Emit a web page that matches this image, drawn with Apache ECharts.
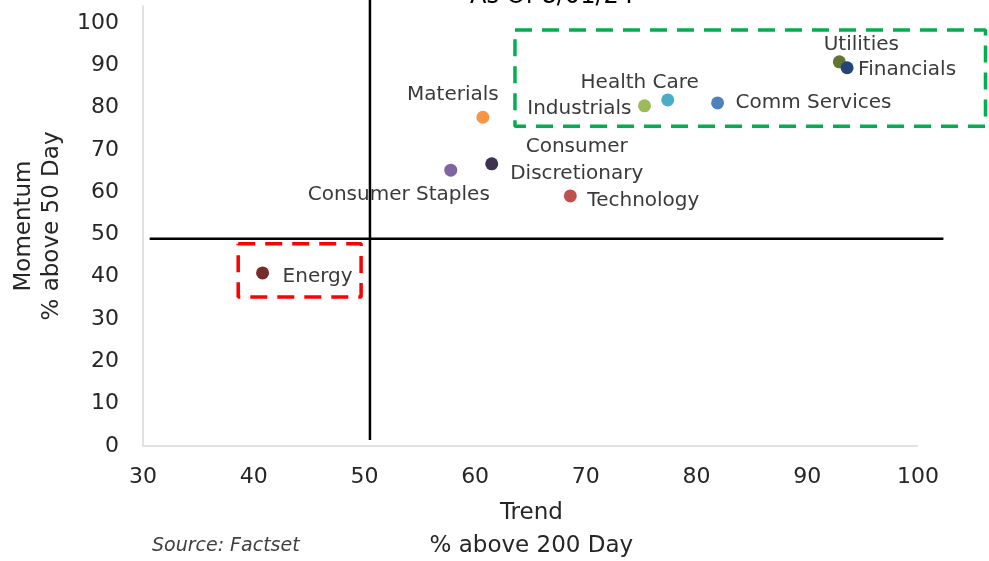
<!DOCTYPE html>
<html>
<head>
<meta charset="utf-8">
<script src="https://cdn.jsdelivr.net/npm/echarts@6/dist/echarts.min.js"></script>
<style>
  html, body { margin: 0; padding: 0; background: #fff; }
  #echartsContainer { width: 989px; height: 561px; }
</style>
</head>
<body>
<div id="echartsContainer"></div>
<script>
// sector data: trend = % above 200 day, momentum = % above 50 day
const sectors = ['Utilities', 'Financials', 'Health Care', 'Industrials', 'Comm Services',
  'Materials', 'Consumer\nDiscretionary', 'Consumer Staples', 'Technology', 'Energy'];
const trend = [92.9, 93.6, 77.4, 75.3, 81.9, 60.7, 61.5, 57.8, 68.6, 40.8];
const momentum = [90.8, 89.4, 81.8, 80.4, 81.1, 77.7, 66.7, 65.2, 59.1, 40.9];

// quadrant split lines (data units)
const splitV = [[50.5, 1.4], [50.5, 106]];
const splitH = [[30.6, 49], [102.3, 49]];
// visible part of the x axis baseline
const xBase = [[30, 0], [100, 0]];

// highlight boxes (data units)
const greenBox = [[63.6, 98.3], [106.1, 98.3], [106.1, 75.6], [63.6, 75.6], [63.6, 98.3]];
const redBox = [[38.6, 47.8], [49.7, 47.8], [49.7, 35.2], [38.6, 35.2], [38.6, 47.8]];

const colors = ['#5f7530', '#264478', '#4bacc6', '#9bbb59', '#4f81bd',
  '#f79646', '#3f3151', '#8064a2', '#c0504d', '#772c2a'];

// label placement relative to dot centre
const labelLayout = {
  'Utilities': { align: 'center', offset: [22, -17] },
  'Financials': { align: 'left', offset: [11, 2] },
  'Health Care': { align: 'center', offset: [-28, -17] },
  'Industrials': { align: 'right', offset: [-13, 3] },
  'Comm Services': { align: 'left', offset: [18, 0] },
  'Materials': { align: 'center', offset: [-30, -22] },
  'Consumer\nDiscretionary': { align: 'center', offset: [85, -4] },
  'Consumer Staples': { align: 'center', offset: [-52, 25] },
  'Technology': { align: 'left', offset: [17, 5] },
  'Energy': { align: 'left', offset: [20, 4] }
};

const font = 'DejaVu Sans';

const points = sectors.map(function (name, i) {
  const lay = labelLayout[name];
  return {
    name: name,
    value: [trend[i], momentum[i]],
    itemStyle: { color: colors[i] },
    label: { align: lay.align, offset: lay.offset }
  };
});

function plainLine(data, color, width, type) {
  return {
    type: 'line',
    data: data,
    symbol: 'none',
    clip: false,
    silent: true,
    z: 1,
    lineStyle: { color: color, width: width, type: type || 'solid' }
  };
}

const myChart = echarts.init(document.getElementById('echartsContainer'));
const option = {
  backgroundColor: '#ffffff',
  animation: false,
  title: [
    {
      text: 'As Of 8/01/24',
      left: 547,
      top: -20,
      textAlign: 'center',
      textStyle: { fontFamily: font, fontSize: 24, fontWeight: 'normal', color: '#000000' }
    },
    {
      text: 'Source: Factset',
      left: 147,
      top: 532,
      textStyle: { fontFamily: font, fontSize: 19, fontStyle: 'italic', fontWeight: 'normal', color: '#404040' }
    }
  ],
  grid: { left: 143, right: 1.3, top: 6, bottom: 115, containLabel: false, outerBoundsMode: 'none' },
  xAxis: {
    type: 'value',
    min: 30,
    max: 106.3,
    interval: 10,
    name: 'Trend\n% above 200 Day',
    nameLocation: 'middle',
    nameGap: 51,
    nameTextStyle: { fontFamily: font, fontSize: 23, color: '#262626', lineHeight: 33, padding: [0, 68, 0, 0] },
    axisLine: { show: false },
    axisTick: { show: false },
    splitLine: { show: false },
    axisLabel: {
      fontFamily: font, fontSize: 22, color: '#262626', margin: 20,
      formatter: function (v) { return v % 10 === 0 && v <= 100 ? String(v) : ''; }
    }
  },
  yAxis: {
    type: 'value',
    min: 0,
    max: 104,
    interval: 10,
    name: 'Momentum\n% above 50 Day',
    nameLocation: 'middle',
    nameGap: 77,
    nameTextStyle: { fontFamily: font, fontSize: 23, color: '#262626', lineHeight: 28 },
    axisLine: { show: true, lineStyle: { color: '#d9d9d9', width: 1.5 } },
    axisTick: { show: false },
    splitLine: { show: false },
    axisLabel: {
      fontFamily: font, fontSize: 22, color: '#262626', margin: 24,
      formatter: function (v) { return v % 10 === 0 ? String(v) : ''; }
    }
  },
  series: [
    plainLine(xBase, '#d9d9d9', 1.5),
    plainLine(splitV, '#000000', 2.5),
    plainLine(splitH, '#000000', 2.5),
    plainLine(greenBox, '#00b050', 3.5, [17, 10]),
    plainLine(redBox, '#ff0000', 3.5, [17, 10]),
    {
      type: 'scatter',
      symbolSize: 13,
      z: 3,
      data: points,
      itemStyle: { opacity: 1 },
      label: {
        show: true,
        position: 'inside',
        verticalAlign: 'middle',
        formatter: '{b}',
        fontFamily: font,
        fontSize: 20,
        lineHeight: 27,
        color: '#3a3a3a'
      }
    }
  ]
};

// 使用刚指定的配置项和数据显示图表
myChart.setOption(option);
</script>
</body>
</html>
